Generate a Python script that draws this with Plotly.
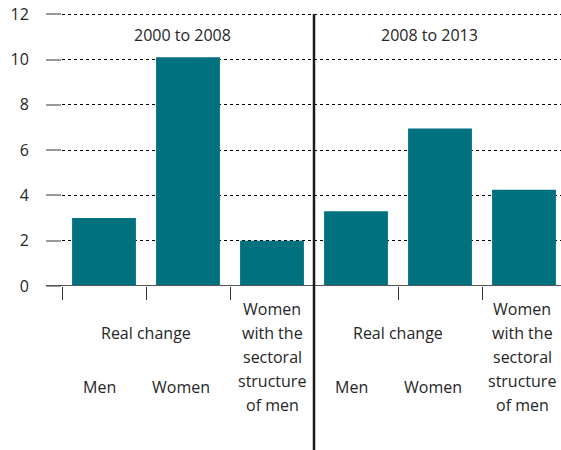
import plotly.graph_objects as go

# ---- data ----
periods = ["2000 to 2008", "2008 to 2013"]
categories = ["Men", "Women", "Women with the sectoral structure of men",
              "Men", "Women", "Women with the sectoral structure of men"]
values = [3.0, 10.1, 2.0, 3.3, 6.95, 4.25]
group_label = "Real change"
bar_labels = ["Men", "Women"]
structure_lines = ["Women", "with the", "sectoral", "structure", "of men"]
y_ticks = [0, 2, 4, 6, 8, 10, 12]

TEAL = "#00717f"
TXT = "#262626"
FONT = "Open Sans"
FS = 16

x_pos = list(range(len(values)))

fig = go.Figure()
fig.add_trace(go.Bar(x=x_pos, y=values, marker=dict(color=TEAL, line=dict(width=0)),
                     width=0.76, hoverinfo="skip", showlegend=False))

W = 499.0   # plot width in px
TOP, ZERO = 12.0, 286.0
H = ZERO - TOP  # plot height in px
fig.update_layout(
    width=561, height=450,
    margin=dict(l=62, r=0, t=int(TOP), b=int(450 - ZERO), autoexpand=False),
    plot_bgcolor="white", paper_bgcolor="white",
    font=dict(family=FONT, size=FS, color=TXT),
    xaxis=dict(range=[-0.5, -0.5 + W / 84.0], tickvals=[-0.499, 0.5, 1.5, 3.5, 4.5],
               ticks="outside", ticklen=13, tickwidth=1.2, tickcolor="#333333",
               showticklabels=False, showgrid=False, zeroline=False, showline=False),
    yaxis=dict(range=[0, 12.1], tickvals=y_ticks, ticks="outside", ticklen=15,
               tickwidth=2, tickcolor="#999999", showgrid=True, gridcolor="black",
               griddash="3px,3px", gridwidth=1, zeroline=False, showline=False,
               tickfont=dict(size=FS, color=TXT, family=FONT), ticklabelstandoff=14),
    bargap=0.24,
)

def py(pix):
    return (ZERO - pix) / H

shapes = [
    dict(type="line", xref="paper", yref="y", x0=-16 / W, x1=1, y0=0, y1=0,
         line=dict(color="#555555", width=2), layer="above"),
    dict(type="line", xref="x", yref="paper", x0=2.5, x1=2.5, y0=py(452), y1=py(14),
         line=dict(color="#1a1a1a", width=2.5), layer="above"),
]
fig.update_layout(shapes=shapes)

ann = []
def txt(x, y, s, xshift=0):
    ann.append(dict(x=x, y=y, xref="x", yref="paper", text=s, showarrow=False,
                    xanchor="center", yanchor="middle", xshift=xshift,
                    font=dict(family=FONT, size=FS, color=TXT)))

# period titles
txt(0.94, py(35), periods[0])
txt(3.875, py(35), periods[1])

for g in (0, 3):
    txt(g + 0.5, py(333), group_label)
    txt(g + 0, py(387), bar_labels[0], xshift=-5)
    txt(g + 1, py(387), bar_labels[1], xshift=-7)
    for i, line in enumerate(structure_lines):
        txt(g + 2, py(309 + 24 * i), line, xshift=0 if g == 0 else -2)

fig.update_layout(annotations=ann)

fig.write_html("out.html", config={"displayModeBar": False},
               post_script="document.body.style.margin='0';"
                           "document.body.style.overflow='hidden';")
